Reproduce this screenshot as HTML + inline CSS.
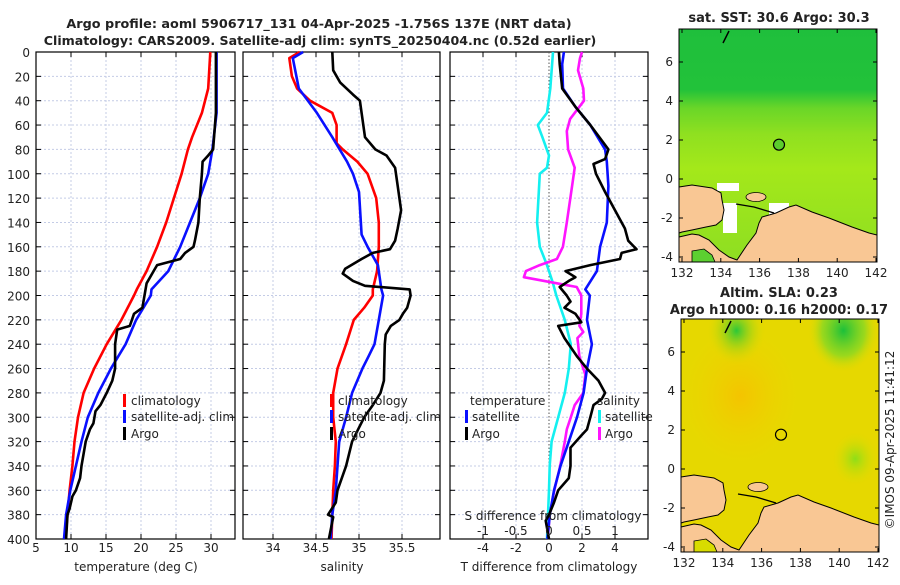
<!DOCTYPE html>
<html><head><meta charset="utf-8"><style>
html,body{margin:0;padding:0;background:#fff;}
svg text{font-family:"DejaVu Sans","Liberation Sans",sans-serif;fill:#222;}
</style></head><body>
<svg id="root" width="900" height="580" viewBox="0 0 900 580" xmlns="http://www.w3.org/2000/svg">
<defs>
<linearGradient id="sstGrad" x1="0" y1="0" x2="0" y2="1">
<stop offset="0" stop-color="#1fbf3c"/><stop offset="0.26" stop-color="#22c23a"/><stop offset="0.34" stop-color="#6ad628"/><stop offset="0.45" stop-color="#8fe020"/><stop offset="0.6" stop-color="#a4e81a"/><stop offset="1" stop-color="#8ede22"/>
</linearGradient>
<radialGradient id="slaG1" cx="0.82" cy="0.05" r="0.18"><stop offset="0" stop-color="#1cc03a"/><stop offset="0.6" stop-color="#7ad828" stop-opacity="0.7"/><stop offset="1" stop-color="#e4dc00" stop-opacity="0"/></radialGradient>
<radialGradient id="slaG2" cx="0.28" cy="0.05" r="0.15"><stop offset="0" stop-color="#2cc838"/><stop offset="1" stop-color="#e4dc00" stop-opacity="0"/></radialGradient>
<radialGradient id="slaG3" cx="0.88" cy="0.6" r="0.12"><stop offset="0" stop-color="#8ede18"/><stop offset="1" stop-color="#e4dc00" stop-opacity="0"/></radialGradient>
<radialGradient id="slaO" cx="0.3" cy="0.33" r="0.3"><stop offset="0" stop-color="#f4c400"/><stop offset="1" stop-color="#eed400" stop-opacity="0"/></radialGradient>
</defs>
<g id="plots"></g>
</svg>
<script>
// ===== Data: Temperature panel =====
const tClimDepth=[0,30,50,70,80,100,120,140,160,180,195,200,220,240,260,280,300,320,340,360,380,400];
const tClimVal=[29.9,29.6,28.7,27.3,26.7,25.8,24.7,23.6,22.3,20.8,19.4,19.0,17.2,15.1,13.3,11.8,11.0,10.5,10.2,9.8,9.5,9.2];
const tSatDepth=[0,50,80,100,120,140,160,180,195,200,220,240,260,280,300,320,340,360,380,400];
const tSatVal=[30.8,30.8,30.2,29.6,28.4,27.0,25.6,23.9,21.5,21.4,19.3,17.8,15.7,13.9,12.4,11.5,10.7,9.9,9.3,9.0];
const tArgoDepth=[0,50,80,85,90,100,120,140,155,160,165,170,175,180,190,200,210,215,220,225,228,240,260,270,280,290,295,305,310,320,340,350,360,365,375,380,400];
const tArgoVal=[30.7,30.7,30.3,29.6,28.8,28.7,28.4,28.2,27.7,27.5,26.3,25.6,22.3,21.8,20.8,20.5,20.2,19.0,18.7,18.4,16.6,16.3,16.3,15.9,15.1,14.2,13.5,13.2,12.7,12.1,11.5,11.3,10.7,10.2,9.8,9.5,9.3];
// ===== Data: Salinity panel =====
const sClimDepth=[0,5,20,30,40,50,60,75,80,90,100,120,140,160,180,195,200,210,220,240,260,280,300,320,340,360,380,400];
const sClimVal=[34.31,34.19,34.22,34.28,34.43,34.69,34.74,34.74,34.81,34.98,35.10,35.20,35.23,35.23,35.21,35.16,35.16,35.06,34.94,34.85,34.75,34.70,34.70,34.73,34.72,34.70,34.69,34.68];
const sSatDepth=[0,5,30,50,70,90,100,115,150,160,175,195,200,220,240,250,260,280,300,320,340,360,380,400];
const sSatVal=[34.35,34.23,34.30,34.51,34.69,34.86,34.93,35.0,35.03,35.10,35.22,35.26,35.28,35.23,35.18,35.11,35.04,34.92,34.85,34.77,34.75,34.73,34.69,34.67];
const sArgoDepth=[0,15,25,35,40,50,70,80,85,95,110,130,145,155,162,165,170,178,182,188,192,195,200,210,215,220,225,232,240,270,280,290,300,310,320,340,360,370,380,382,400];
const sArgoVal=[34.69,34.70,34.78,34.93,35.01,35.03,35.07,35.19,35.32,35.42,35.45,35.49,35.45,35.42,35.36,35.16,35.03,34.84,34.81,34.93,35.07,35.59,35.60,35.56,35.51,35.47,35.37,35.31,35.30,35.29,35.25,35.16,35.06,34.99,34.92,34.85,34.75,34.73,34.64,34.70,34.65];
// ===== Data: Difference panel =====
const dTSatDepth=[0,10,30,45,60,80,90,110,140,160,180,195,200,220,240,260,280,300,320,340,360,380,400];
const dTSatVal=[0.9,0.8,0.85,1.6,2.5,3.4,3.5,3.6,3.5,3.1,2.9,2.2,2.47,2.3,2.6,2.3,2.1,1.7,1.2,0.7,0.3,0.05,-0.1];
const dTArgoDepth=[0,10,30,45,60,80,88,92,100,115,130,145,155,162,165,170,175,180,185,188,193,200,205,210,215,222,225,235,250,260,270,280,285,290,300,310,315,325,340,350,360,370,380,385,400];
const dTArgoVal=[0.6,0.65,0.8,1.6,2.5,3.6,3.4,2.7,2.85,3.4,4.0,4.6,4.8,5.3,4.4,4.3,2.5,1.0,1.6,1.2,0.65,1.07,1.3,0.94,1.6,1.96,0.56,0.94,1.7,2.3,3.0,3.4,3.2,2.7,2.5,2.3,1.96,1.3,1.3,1.2,0.56,0.3,0.0,-0.2,0.0];
const dSSatDepth=[0,30,50,60,70,85,95,100,140,160,175,190,200,220,240,260,280,300,320,340,360,400];
const dSSatVal=[0.06,0.02,-0.03,-0.17,-0.1,0.0,-0.03,-0.14,-0.18,-0.14,-0.03,0.06,0.11,0.24,0.33,0.3,0.24,0.14,0.04,0.01,0.0,-0.03];
const dSArgoDepth=[0,5,15,30,40,50,55,65,80,95,110,140,160,170,175,180,185,190,193,200,215,225,230,235,250,265,280,290,300,310,320,340,360,380,400];
const dSArgoVal=[0.5,0.47,0.44,0.52,0.53,0.39,0.32,0.27,0.29,0.39,0.35,0.27,0.21,0.12,-0.14,-0.35,-0.38,0.12,0.42,0.49,0.49,0.46,0.52,0.43,0.46,0.55,0.52,0.39,0.33,0.27,0.24,0.17,0.08,0.01,-0.02];
// ===== Tick labels =====
const depthTicks=[0,20,40,60,80,100,120,140,160,180,200,220,240,260,280,300,320,340,360,380,400];
const tTicks=[5,10,15,20,25,30];
const sTicks=[34,34.5,35,35.5];
const dTTicks=[-4,-2,0,2,4];
const dSTicks=[-1,-0.5,0,0.5,1];
const lonTicks=[132,134,136,138,140,142];
const latTicks=[6,4,2,0,-2,-4];
const argoLon=137.0, argoLat=1.76;

const NS="http://www.w3.org/2000/svg";
const root=document.getElementById('plots');
function mk(tag,attrs,parent){const e=document.createElementNS(NS,tag);for(const k in attrs)e.setAttribute(k,attrs[k]);(parent||root).appendChild(e);return e;}
function txt(s,x,y,size,anchor,weight,parent){const e=mk('text',{x:x,y:y,'font-size':size,'text-anchor':anchor||'middle','font-weight':weight||'normal'},parent);e.textContent=s;return e;}

const yD=d=>52+d*1.2175;
const x1=t=>36+(t-5)*7;
const x2=s=>273+(s-34)*86;
const x3=t=>549+t*16.5;
const xs=s=>549+s*66;
const Y0=52,Y1=539;

function panel(name,left,right,gridXs){
  const g=mk('g',{});
  
  
  depthTicks.forEach(d=>{mk('line',{x1:left,x2:right,y1:yD(d),y2:yD(d),stroke:'#c4cce6','stroke-width':1,'stroke-dasharray':'2,2'},g);
    mk('line',{x1:left,x2:left+5,y1:yD(d),y2:yD(d),stroke:'#000'},g);mk('line',{x1:right-5,x2:right,y1:yD(d),y2:yD(d),stroke:'#000'},g);});
  gridXs.forEach(x=>{mk('line',{x1:x,x2:x,y1:Y0,y2:Y1,stroke:'#c4cce6','stroke-width':1,'stroke-dasharray':'2,2'},g);
    mk('line',{x1:x,x2:x,y1:Y1-5,y2:Y1,stroke:'#000'},g);mk('line',{x1:x,x2:x,y1:Y0,y2:Y0+5,stroke:'#000'},g);});
  mk('rect',{x:left,y:Y0,width:right-left,height:Y1-Y0,fill:'none',stroke:'#000','stroke-width':1.2},g);
  return g;
}
function series(name,depths,vals,sx,color,g){
  const pts=depths.map((d,i)=>sx(vals[i]).toFixed(1)+','+yD(d).toFixed(1)).join(' ');
  const p=mk('polyline',{points:pts,fill:'none',stroke:color,'stroke-width':2.6,'stroke-linejoin':'round'},g);
  
  
}
function legendBar(x,y,color,g){mk('rect',{x:x,y:y-11,width:3,height:13,fill:color},g);}

// Title
const title=mk('g',{});


txt('Argo profile: aoml 5906717_131 04-Apr-2025 -1.756S 137E (NRT data)',319,28,12.8,'middle','bold',title);
txt('Climatology: CARS2009. Satellite-adj clim: synTS_20250404.nc (0.52d earlier)',320,45,12.6,'middle','bold',title);

// Panel 1
const p1=panel('temperature-panel',36,235,tTicks.slice(1).map(x1));
depthTicks.forEach(d=>{const t=txt(String(d),30,yD(d)+5,12,'end','normal',p1);});
tTicks.forEach(t=>txt(String(t),x1(t),552,12,'middle','normal',p1));
txt('temperature (deg C)',136,571,12,'middle','normal',p1);
series('temp-climatology-line',tClimDepth,tClimVal,x1,'#ff0000',p1);
series('temp-satellite-line',tSatDepth,tSatVal,x1,'#0a10ff',p1);
series('temp-argo-line',tArgoDepth,tArgoVal,x1,'#000',p1);
const l1=mk('g',{},p1);
legendBar(123,405,'#ff0000',l1);txt('climatology',131,405,12,'start','normal',l1);
legendBar(123,421,'#0a10ff',l1);txt('satellite-adj. clim',131,421,12,'start','normal',l1);
legendBar(123,438,'#000',l1);txt('Argo',131,438,12,'start','normal',l1);

// Panel 2
const p2=panel('salinity-panel',243,440,sTicks.map(x2));
sTicks.forEach(s=>txt(String(s),x2(s),552,12,'middle','normal',p2));
txt('salinity',342,571,12,'middle','normal',p2);
series('sal-climatology-line',sClimDepth,sClimVal,x2,'#ff0000',p2);
series('sal-satellite-line',sSatDepth,sSatVal,x2,'#0a10ff',p2);
series('sal-argo-line',sArgoDepth,sArgoVal,x2,'#000',p2);
const l2=mk('g',{},p2);
legendBar(330,405,'#ff0000',l2);txt('climatology',338,405,12,'start','normal',l2);
legendBar(330,421,'#0a10ff',l2);txt('satellite-adj. clim',338,421,12,'start','normal',l2);
legendBar(330,438,'#000',l2);txt('Argo',338,438,12,'start','normal',l2);

// Panel 3
const p3=panel('difference-panel',450,648,dTTicks.filter(t=>t!==0).map(x3));
mk('line',{x1:x3(0),x2:x3(0),y1:Y0,y2:Y1,stroke:'#555','stroke-width':1,'stroke-dasharray':'1.5,2'},p3);
dTTicks.forEach(t=>txt(String(t),x3(t),552,12,'middle','normal',p3));
txt('T difference from climatology',549,571,12,'middle','normal',p3);
series('sal-diff-satellite-line',dSSatDepth,dSSatVal,xs,'#14f0f0',p3);
series('sal-diff-argo-line',dSArgoDepth,dSArgoVal,xs,'#ff14ff',p3);
series('temp-diff-satellite-line',dTSatDepth,dTSatVal,x3,'#0a10ff',p3);
series('temp-diff-argo-line',dTArgoDepth,dTArgoVal,x3,'#000',p3);
const sAx=mk('g',{},p3);
txt('S difference from climatology',553,520,12,'middle','normal',sAx);
dSTicks.forEach(s=>txt(String(s),xs(s),535,12,'middle','normal',sAx));
const l3=mk('g',{},p3);
txt('temperature',470,405,12,'start','normal',l3);
legendBar(465,421,'#0a10ff',l3);txt('satellite',472,421,12,'start','normal',l3);
legendBar(465,438,'#000',l3);txt('Argo',472,438,12,'start','normal',l3);
txt('salinity',597,405,12,'start','normal',l3);
legendBar(598,421,'#14f0f0',l3);txt('satellite',605,421,12,'start','normal',l3);
legendBar(598,438,'#ff14ff',l3);txt('Argo',605,438,12,'start','normal',l3);

// Maps
function mapPanel(name,fx,fy,kind){
  const W=198,H=233;
  const g=mk('g',{});
  
  
  const lonX=lon=>fx+3+(lon-132)*19.4;
  const latY=lat=>fy+33+(6-lat)*19.5;
  const inner=mk('g',{transform:'translate('+fx+','+fy+')'},g);
  const sea=kind==='sst'?'#5cd030':'#d8dc00';
  if(kind==='sst'){
    mk('rect',{x:0,y:0,width:W,height:H,fill:'url(#sstGrad)'},inner);
    mk('rect',{x:38,y:154,width:22,height:8,fill:'#fff'},inner);
    mk('rect',{x:44,y:174,width:14,height:30,fill:'#fff'},inner);
    mk('rect',{x:90,y:174,width:20,height:16,fill:'#fff'},inner);
  }else{
    mk('rect',{x:0,y:0,width:W,height:H,fill:'#e6d800'},inner);
    mk('rect',{x:0,y:0,width:W,height:H,fill:'url(#slaO)'},inner);
    mk('rect',{x:0,y:0,width:W,height:H,fill:'url(#slaG1)'},inner);
    mk('rect',{x:0,y:0,width:W,height:H,fill:'url(#slaG2)'},inner);
    mk('rect',{x:0,y:0,width:W,height:H,fill:'url(#slaG3)'},inner);
  }
  const bh=mk('polygon',{points:'0,158 13,156 33,159 42,164 43,171 45,181 43,191 37,196 27,198 13,201 3,203 0,204',fill:'#f9c794',stroke:'#000','stroke-width':1},inner);
  
  
  const land=mk('polygon',{points:'0,208 13,205 20,206 30,211 40,221 50,228 58,231 68,216 77,204 80,194 83,188 97,184 110,178 117,176 133,183 150,189 173,198 190,204 198,206 198,233 0,233',fill:'#f9c794',stroke:'#000','stroke-width':1},inner);
  
  
  mk('polygon',{points:'13,222 25,220 33,226 36,233 13,233',fill:sea,stroke:'#000','stroke-width':0.8},inner);
  mk('ellipse',{cx:77,cy:168,rx:10,ry:4.5,fill:'#f9c794',stroke:'#000','stroke-width':0.8},inner);
  mk('polyline',{points:'57,175 75,178 95,184',fill:'none',stroke:'#000','stroke-width':1.3},inner);
  mk('polyline',{points:'44,14 47,8 50,2',fill:'none',stroke:'#000','stroke-width':1.5},inner);
  mk('rect',{x:0,y:0,width:W,height:H,fill:'none',stroke:'#000','stroke-width':1},inner);
  lonTicks.forEach(l=>{const x=lonX(l);mk('line',{x1:x,x2:x,y1:fy+H-4,y2:fy+H,stroke:'#000'},g);mk('line',{x1:x,x2:x,y1:fy,y2:fy+4,stroke:'#000'},g);txt(String(l),x,fy+H+15,12,'middle','normal',g);});
  latTicks.forEach(l=>{const y=latY(l);mk('line',{x1:fx,x2:fx+4,y1:y,y2:y,stroke:'#000'},g);mk('line',{x1:fx+W-4,x2:fx+W,y1:y,y2:y,stroke:'#000'},g);txt(String(l),fx-6,y+4,12,'end','normal',g);});
  const c=mk('circle',{cx:lonX(argoLon),cy:latY(argoLat),r:5.5,fill:kind==='sst'?'#5ccc2c':'none',stroke:'#000','stroke-width':1.2},g);
  
  
  return g;
}
const m1=mapPanel('sst-map',679,29,'sst');
txt('sat. SST: 30.6 Argo: 30.3',779,22,13,'middle','bold',m1);
const m2=mapPanel('sla-map',681,319,'sla');
txt('Altim. SLA: 0.23',779,297,13,'middle','bold',m2);
txt('Argo h1000: 0.16 h2000: 0.17',779,314,13,'middle','bold',m2);
const cr=txt('©IMOS 09-Apr-2025 11:41:12',0,0,12,'middle','normal');
cr.setAttribute('transform','translate(894,440) rotate(-90)');


</script>
</body></html>
